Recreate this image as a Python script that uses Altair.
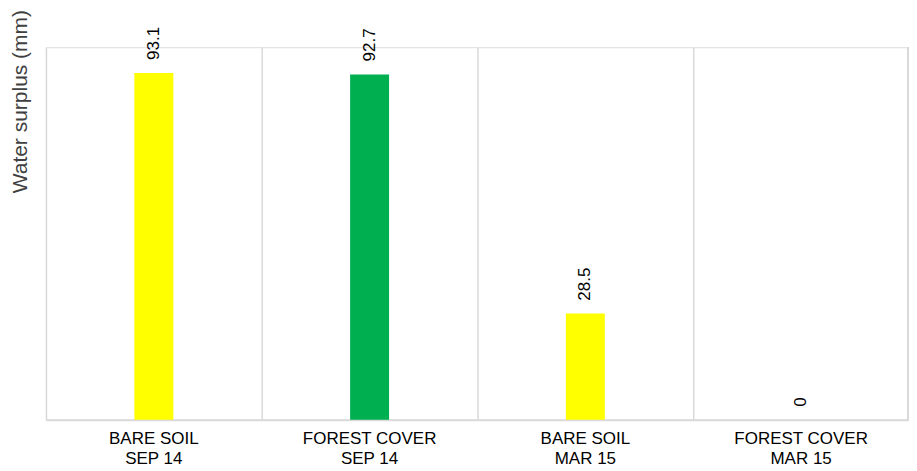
import altair as alt
import pandas as pd

categories = ["BARE SOIL|SEP 14", "FOREST COVER|SEP 14", "BARE SOIL|MAR 15", "FOREST COVER|MAR 15"]
values = [93.1, 92.7, 28.5, 0]
labels = ["93.1", "92.7", "28.5", "0"]
colors = ["#FFFF00", "#00B050", "#FFFF00", "#00B050"]

df = pd.DataFrame({"cat": categories, "val": values, "lbl": labels, "color": colors})

W, H = 864, 373
GRID = "#d9d9d9"

x_enc = alt.X(
    "cat:N",
    sort=None,
    scale=alt.Scale(paddingInner=0, paddingOuter=0),
    axis=alt.Axis(
        title=None,
        labelExpr="split(datum.label, '|')",
        labelAngle=0,
        ticks=False,
        grid=True,
        bandPosition=0,
        gridColor=GRID,
        gridWidth=1.5,
        domainColor=GRID,
        domainWidth=2,
        labelFontSize=17,
        labelColor="#000000",
        labelPadding=11,
        labelLineHeight=20,
        labelBaseline="top",
    ),
)
y_enc = alt.Y(
    "val:Q",
    scale=alt.Scale(domain=[0, 100]),
    axis=alt.Axis(
        labels=False,
        ticks=False,
        domain=False,
        grid=False,
        title="Water surplus (mm)",
        titleFontSize=21,
        titleFontWeight="normal",
        titleColor="#404040",
        titleAngle=270,
        titleAlign="center",
        titleBaseline="middle",
        titleX=-25,
        titleY=54,
    ),
)

base = alt.Chart(df)

bars = base.mark_bar(size=39).encode(x=x_enc, y=y_enc, color=alt.Color("color:N", scale=None))
text = base.mark_text(angle=270, align="left", baseline="middle", dx=13, fontSize=17, color="#000000").encode(
    x=alt.X("cat:N", sort=None), y=alt.Y("val:Q"), text="lbl:N"
)
edge = base.mark_rule(color=GRID, strokeWidth=1.5).encode(
    x=alt.value(W - 1), y=alt.value(0), y2=alt.value(H)
)

chart = (
    alt.layer(bars, text, edge)
    .properties(
        width=W,
        height=H,
        padding={"left": 38, "top": 39, "right": 0, "bottom": 52},
        autosize=alt.AutoSizeParams(type="none"),
        background="#ffffff",
    )
    .configure_view(stroke=None)
    .configure(font="Liberation Sans")
)

chart.save("out.html", embed_options={"renderer": "svg", "actions": False})
